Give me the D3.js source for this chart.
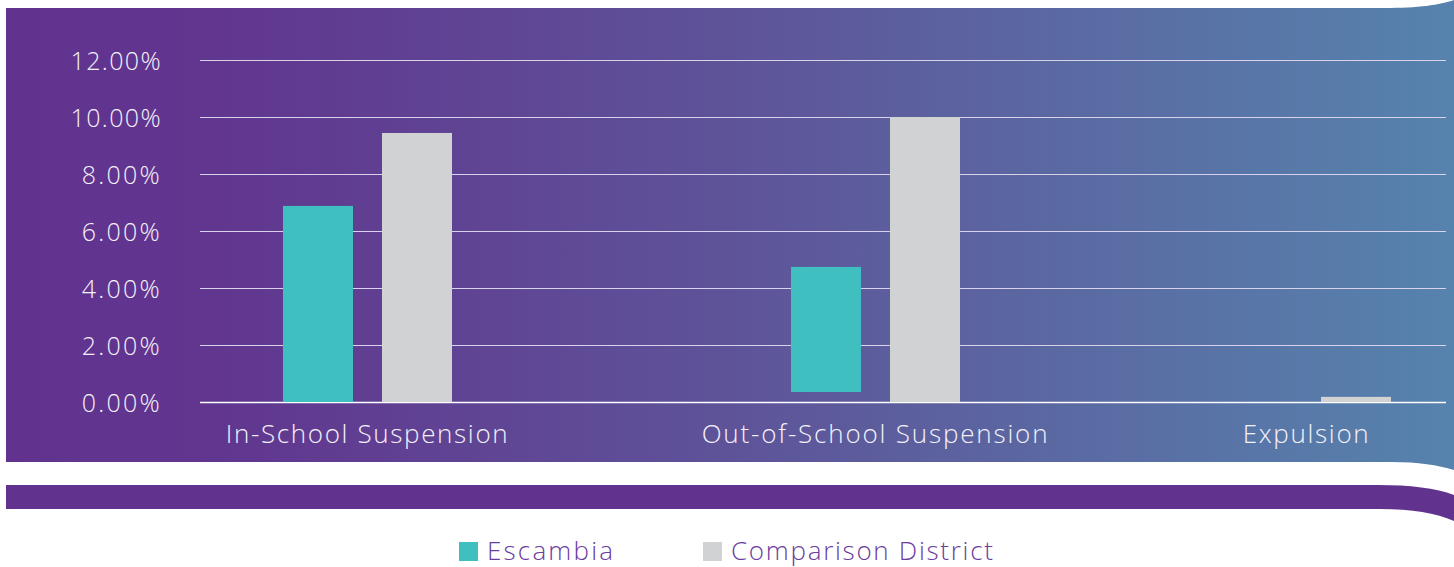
<!DOCTYPE html>
<html>
<head>
<meta charset="utf-8">
<script src="https://cdn.jsdelivr.net/npm/d3@7"></script>
<style>
  html, body { margin: 0; padding: 0; background: #ffffff; }
  svg { display: block; }
  text { font-family: "Open Sans", "Lato", sans-serif; }
</style>
</head>
<body>
<svg id="chart" width="1454" height="567"></svg>
<script>
// ---- data ----
const categories = ["In-School Suspension", "Out-of-School Suspension", "Expulsion"];
const seriesNames = ["Escambia", "Comparison District"];
const escambiaStart = [0, 0.35, 0];
const escambiaValues = [6.88, 4.74, 0];
const comparisonValues = [9.44, 10.0, 0.18];
const yTicks = [0, 2, 4, 6, 8, 10, 12];
const seriesColors = ["#40bfc1", "#d1d2d4"];

const svg = d3.select("#chart");
const FONT = "'Open Sans', Lato, sans-serif";

// background gradient
const defs = svg.append("defs");
const grad = defs.append("linearGradient").attr("id", "bg")
  .attr("x1", "0%").attr("x2", "100%").attr("y1", "0%").attr("y2", "0%");
grad.append("stop").attr("offset", "0%").attr("stop-color", "#61338f");
grad.append("stop").attr("offset", "15%").attr("stop-color", "#61368f");
grad.append("stop").attr("offset", "50%").attr("stop-color", "#5e5399");
grad.append("stop").attr("offset", "100%").attr("stop-color", "#5683ad");

// main panel
svg.append("path")
  .attr("d", "M6,8 L1385,8 C1418,8 1440,5 1454,0 L1454,470 C1438,465 1418,462 1392,462 L6,462 Z")
  .attr("fill", "url(#bg)");

// lower band
svg.append("path")
  .attr("d", "M6,485 L1378,485 C1410,485 1436,488 1454,495 L1454,521 C1436,513 1412,509 1380,509 L6,509 Z")
  .attr("fill", "#61338f");

// scales
const y = d3.scaleLinear().domain([0, 12]).range([402, 60]);
const x = d3.scaleOrdinal().domain(categories).range([367.5, 875.5, 1306.5]);
const sub = d3.scaleBand().domain(seriesNames).range([-84.5, 84.5]).paddingInner(0.2929).paddingOuter(0);

// gridlines
const gx0 = 200, gx1 = 1446;
svg.append("g").selectAll("line").data(yTicks).join("line")
  .attr("x1", gx0).attr("x2", gx1)
  .attr("y1", d => Math.round(y(d)) + 0.5).attr("y2", d => Math.round(y(d)) + 0.5)
  .attr("stroke", d => d === 0 ? "#ffffff" : "#d8d3ea")
  .attr("stroke-width", d => d === 0 ? 1.3 : 1.1);

// fit a text element to a target width by letter-spacing
function fit(sel, target) {
  sel.each(function() {
    const n = this.textContent.length;
    const w = this.getComputedTextLength();
    const ls = (target(this.textContent) - w) / Math.max(1, n - 1);
    d3.select(this).attr("letter-spacing", ls.toFixed(2));
  });
}

// y axis labels
const yAxis = d3.axisLeft(y).tickValues(yTicks).tickFormat(d => d3.format(".2f")(d) + "%").tickSize(0).tickPadding(0);
const ya = svg.append("g").attr("transform", "translate(162,0)").call(yAxis);
ya.select(".domain").remove();
ya.selectAll("text")
  .attr("fill", "#f4f1f9")
  .attr("font-size", 25)
  .attr("font-weight", 300)
  .attr("font-family", FONT)
  .attr("dy", "0.36em");
fit(ya.selectAll("text"), t => t.length === 6 ? 90 : 78);

// bars
const rows = categories.map((c, i) => ({
  cat: c,
  vals: [
    { s: seriesNames[0], start: escambiaStart[i], v: escambiaValues[i] },
    { s: seriesNames[1], start: 0, v: comparisonValues[i] }
  ]
}));
const g = svg.append("g");
rows.forEach(r => {
  g.selectAll(null).data(r.vals.filter(d => d.v > d.start)).join("rect")
    .attr("x", d => x(r.cat) + sub(d.s))
    .attr("width", sub.bandwidth())
    .attr("y", d => y(d.v))
    .attr("height", d => y(d.start) - y(d.v))
    .attr("fill", (d) => seriesColors[seriesNames.indexOf(d.s)]);
});

// x axis labels
const catWidths = {"In-School Suspension": 282, "Out-of-School Suspension": 346, "Expulsion": 126};
const xl = svg.append("g").selectAll("text").data(categories).join("text")
  .attr("x", d => x(d)).attr("y", 443)
  .attr("text-anchor", "middle")
  .attr("fill", "#f4f1f9")
  .attr("font-size", 26)
  .attr("font-weight", 300)
  .attr("font-family", FONT)
  .text(d => d);
fit(xl, t => catWidths[t]);

// legend
const legendX = [459, 703];
const legendW = [126, 262];
const lg = svg.append("g");
seriesNames.forEach((s, i) => {
  lg.append("rect").attr("x", legendX[i]).attr("y", 542).attr("width", 19).attr("height", 19)
    .attr("fill", seriesColors[i]);
  const t = lg.append("text").attr("x", legendX[i] + 28).attr("y", 560)
    .attr("fill", "#6a3d9e").attr("font-size", 26).attr("font-weight", 300)
    .attr("font-family", FONT)
    .text(s);
  fit(t, () => legendW[i]);
});
</script>
</body>
</html>
